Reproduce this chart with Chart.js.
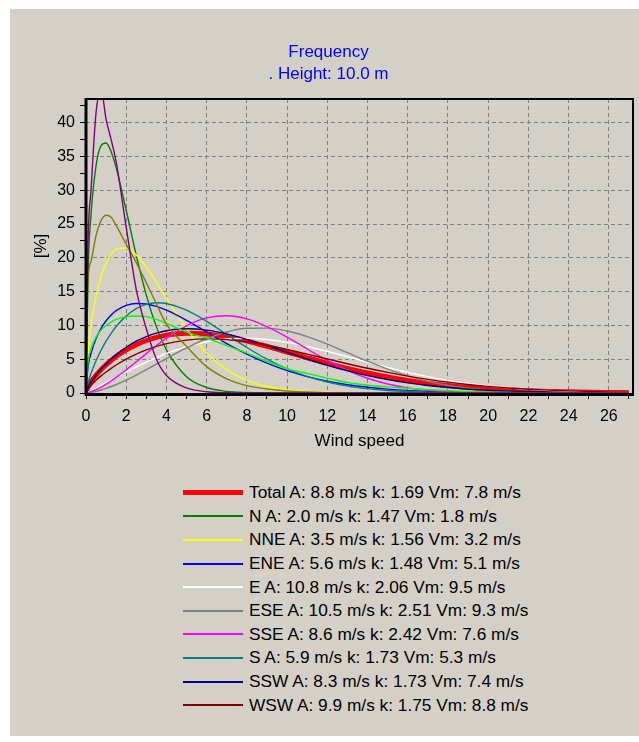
<!DOCTYPE html>
<html>
<head>
<meta charset="utf-8">
<title>Frequency</title>
<script src="https://cdn.jsdelivr.net/npm/chart.js@4.4.1/dist/chart.umd.min.js"></script>
<style>
  html, body { margin: 0; padding: 0; background: #ffffff; }
  #panel { position: absolute; left: 10px; top: 9px; width: 629px; height: 727px; background: #d4d0c8; overflow: hidden; }
  #chart { position: absolute; left: 0; top: 0; }
  #legend { position: absolute; left: 173px; top: 472px; font-family: "Liberation Sans", Arial, sans-serif; font-size: 17.3px; color: #000; }
  .row { display: flex; align-items: center; height: 23.6px; white-space: nowrap; }
  .swatch { width: 60px; margin-right: 6px; }
</style>
</head>
<body>
<div id="panel">
  <canvas id="chart" width="629" height="444"></canvas>
  <div id="legend"></div>
</div>
<script>
// Wind speed samples (m/s) shared by every curve
const speeds = [0, 0.1, 0.25, 0.5, 0.75, 1, 1.25, 1.5, 2, 2.5, 3, 3.5, 4,
  5, 6, 7, 8, 9, 10, 11, 12, 13, 14, 15, 16, 17, 18, 19, 20, 21, 22, 23, 24, 25, 26, 27];

// Sector names and Weibull parameters shown in the legend
const sectors   = ['Total', 'N', 'NNE', 'ENE', 'E', 'ESE', 'SSE', 'S', 'SSW', 'WSW', 'W', 'WNW', 'NNW'];
const weibullA  = [8.8, 2.0, 3.5, 5.6, 10.8, 10.5, 8.6, 5.9, 8.3, 9.9, null, null, null];
const weibullK  = [1.69, 1.47, 1.56, 1.48, 2.06, 2.51, 2.42, 1.73, 1.73, 1.75, null, null, null];
const meanSpeed = [7.8, 1.8, 3.2, 5.1, 9.5, 9.3, 7.6, 5.3, 7.4, 8.8, null, null, null];

// Frequency [%] per sector at each wind speed
const total = [0, 0.87, 1.64, 2.63, 3.46, 4.18, 4.81, 5.39, 6.37, 7.15, 7.77, 8.24, 8.56,
  8.85, 8.74, 8.31, 7.68, 6.90, 6.06, 5.21, 4.39, 3.64, 2.96, 2.36, 1.86, 1.44, 1.10, 0.83, 0.62, 0.45, 0.33, 0.23, 0.17, 0.12, 0.08, 0.05];
const sectorN = [0, 17.77, 26.39, 33.63, 36.59, 36.99, 35.71, 33.35, 27.04, 20.37, 14.49, 9.82, 6.38,
  2.42, 0.81, 0.24, 0.07, 0.02, 0, 0, 0, 0, 0, 0, 0, 0, 0, 0, 0, 0, 0, 0, 0, 0, 0, 0];
const sectorNNE = [0, 6.06, 10.00, 14.29, 17.19, 19.18, 20.49, 21.24, 21.45, 20.43, 18.63, 16.40, 14.01,
  9.51, 5.93, 3.45, 1.88, 0.96, 0.47, 0.22, 0.10, 0.04, 0.02, 0, 0, 0, 0, 0, 0, 0, 0, 0, 0, 0, 0, 0];
const sectorENE = [0, 3.82, 5.88, 8.06, 9.57, 10.69, 11.54, 12.18, 12.97, 13.25, 13.17, 12.81, 12.25,
  10.75, 9.03, 7.32, 5.76, 4.41, 3.30, 2.42, 1.74, 1.22, 0.85, 0.58, 0.39, 0.26, 0.17, 0.11, 0.07, 0.04, 0.03, 0.02, 0.01, 0, 0, 0];
const sectorE = [0, 0.13, 0.35, 0.73, 1.12, 1.52, 1.92, 2.31, 3.10, 3.85, 4.57, 5.24, 5.85,
  6.87, 7.59, 8.00, 8.09, 7.91, 7.49, 6.89, 6.16, 5.37, 4.56, 3.78, 3.06, 2.42, 1.87, 1.41, 1.04, 0.76, 0.53, 0.37, 0.25, 0.17, 0.11, 0.07];
const sectorESE = [0, 0.02, 0.09, 0.24, 0.44, 0.68, 0.96, 1.26, 1.92, 2.66, 3.45, 4.27, 5.10,
  6.68, 8.03, 9.03, 9.57, 9.60, 9.17, 8.34, 7.22, 5.97, 4.71, 3.54, 2.54, 1.73, 1.13, 0.70, 0.41, 0.23, 0.12, 0.06, 0.03, 0.01, 0, 0];
const sectorSSE = [0, 0.05, 0.19, 0.50, 0.88, 1.32, 1.80, 2.32, 3.44, 4.63, 5.83, 7.01, 8.11,
  9.95, 11.11, 11.44, 10.97, 9.83, 8.26, 6.51, 4.81, 3.34, 2.18, 1.33, 0.76, 0.41, 0.20, 0.10, 0.04, 0.02, 0.01, 0, 0, 0, 0, 0];
const sectorS = [0, 1.49, 2.91, 4.77, 6.33, 7.66, 8.82, 9.83, 11.41, 12.49, 13.12, 13.36, 13.25,
  12.26, 10.60, 8.66, 6.73, 5.00, 3.57, 2.45, 1.62, 1.03, 0.64, 0.38, 0.22, 0.12, 0.07, 0.04, 0.02, 0.01, 0, 0, 0, 0, 0, 0];
const sectorSSW = [0, 0.83, 1.61, 2.66, 3.55, 4.33, 5.04, 5.68, 6.77, 7.66, 8.35, 8.87, 9.22,
  9.50, 9.30, 8.74, 7.94, 7.00, 6.01, 5.03, 4.11, 3.29, 2.58, 1.99, 1.50, 1.11, 0.81, 0.58, 0.41, 0.28, 0.19, 0.13, 0.08, 0.05, 0.03, 0.02];
const sectorWSW = [0, 0.56, 1.12, 1.87, 2.53, 3.11, 3.65, 4.14, 5.01, 5.76, 6.38, 6.89, 7.30,
  7.83, 8.01, 7.90, 7.57, 7.06, 6.44, 5.75, 5.03, 4.33, 3.66, 3.05, 2.50, 2.02, 1.61, 1.26, 0.98, 0.75, 0.56, 0.42, 0.31, 0.23, 0.16, 0.12];
const sectorW = [0, 4.5, 6.5, 8.3, 9.3, 10.0, 10.5, 10.9, 11.3, 11.4, 11.3, 10.9, 10.3,
  9.0, 8.1, 7.0, 5.9, 4.7, 3.6, 2.9, 2.2, 1.55, 1.15, 0.9, 0.7, 0.5, 0.35, 0.22, 0.12, 0.07, 0.04, 0.02, 0, 0, 0, 0];
const sectorWNW = [0, 16.5, 19.5, 23.3, 25.5, 26.3, 26.0, 24.8, 22.0, 19.3, 16.3, 13.2, 10.2,
  6.9, 3.9, 2.1, 1.1, 0.6, 0.3, 0.15, 0.05, 0, 0, 0, 0, 0, 0, 0, 0, 0, 0, 0, 0, 0, 0, 0];
const sectorNNW = [0, 22, 30, 41.5, 44.8, 40.5, 37.5, 34.2, 24.5, 15.3, 9.5, 5.0, 2.6,
  0.75, 0.18, 0.04, 0, 0, 0, 0, 0, 0, 0, 0, 0, 0, 0, 0, 0, 0, 0, 0, 0, 0, 0, 0];

const seriesValues = [total, sectorN, sectorNNE, sectorENE, sectorE, sectorESE, sectorSSE,
  sectorS, sectorSSW, sectorWSW, sectorW, sectorWNW, sectorNNW];
const seriesColors = ['#ff0000', '#008000', '#ffff00', '#0000ff', '#ffffff', '#808080', '#ff00ff',
  '#008080', '#000080', '#800000', '#00ff00', '#808000', '#800080'];

const xTicksMajor = 2;   // labelled x ticks every 2 m/s
const yTicksMajor = 5;   // labelled y ticks every 5 %
const legendRows = 10;   // rows that fit in the legend box

const FONT = '"Liberation Sans", Arial, sans-serif';

function sectorLabel(i) {
  if (weibullA[i] === null) return sectors[i];
  return sectors[i] + ' A: ' + weibullA[i].toFixed(1) + ' m/s k: ' + weibullK[i].toFixed(2) +
    ' Vm: ' + meanSpeed[i].toFixed(1) + ' m/s';
}

const datasets = seriesValues.map((vals, i) => ({
  label: sectorLabel(i),
  data: speeds.map((x, j) => ({ x: x, y: vals[j] })),
  borderColor: seriesColors[i],
  backgroundColor: seriesColors[i],
  borderWidth: i === 0 ? 5 : 1.4,
  pointRadius: 0,
  fill: false,
  cubicInterpolationMode: 'monotone',
  order: -i   // later sectors are painted over earlier ones
}));

// Closes the plot frame along the top and right sides
const plotFrame = {
  id: 'plotFrame',
  afterDatasetsDraw(chart) {
    const { ctx, chartArea: a } = chart;
    ctx.save();
    ctx.strokeStyle = '#000';
    ctx.lineWidth = 2;
    ctx.beginPath();
    ctx.moveTo(a.left, a.top);
    ctx.lineTo(a.right, a.top);
    ctx.lineTo(a.right, a.bottom);
    ctx.stroke();
    ctx.lineWidth = 3;
    ctx.beginPath();
    ctx.moveTo(a.left, a.top - 1);
    ctx.lineTo(a.left, a.bottom + 1.5);
    ctx.lineTo(a.right + 1, a.bottom + 1.5);
    ctx.stroke();
    ctx.restore();
  }
};

const gridColor = '#808080';

const chart = new Chart(document.getElementById('chart'), {
  type: 'line',
  data: { datasets: datasets },
  plugins: [plotFrame],
  options: {
    responsive: false,
    animation: false,
    events: [],
    layout: { padding: { left: 14, right: 6, top: 0, bottom: 0 } },
    plugins: {
      legend: { display: false },
      tooltip: { enabled: false },
      title: {
        display: true,
        text: ['Frequency', '. Height: 10.0 m'],
        color: '#0000ff',
        font: { family: FONT, size: 17, weight: 'normal', lineHeight: 22 / 17 },
        padding: { top: 32, bottom: 14 }
      }
    },
    scales: {
      x: {
        type: 'linear',
        min: 0,
        max: 27.2,
        afterFit(scale) { scale.height = 60; },
        ticks: {
          stepSize: 1,
          includeBounds: false,
          autoSkip: false,
          maxRotation: 0,
          padding: 8,
          color: '#000',
          font: { family: FONT, size: 16 },
          callback: v => (v % xTicksMajor === 0 ? String(v) : '')
        },
        grid: {
          color: c => (c.tick && c.tick.value % xTicksMajor === 0 && c.tick.value !== 0 ? gridColor : 'rgba(0,0,0,0)'),
          lineWidth: 1,
          drawTicks: true,
          tickLength: 6,
          tickColor: '#000',
          tickWidth: 1
        },
        border: { display: false, dash: [4, 3] },
        title: {
          display: true,
          text: 'Wind speed',
          color: '#000',
          font: { family: FONT, size: 17 },
          padding: { top: 0, bottom: 1 }
        }
      },
      y: {
        type: 'linear',
        min: 0,
        max: 43.5,
        afterFit(scale) { scale.width = 62; },
        ticks: {
          stepSize: 2.5,
          includeBounds: false,
          autoSkip: false,
          padding: 5,
          color: '#000',
          font: { family: FONT, size: 16 },
          callback: v => (v % yTicksMajor === 0 ? String(v) : '')
        },
        grid: {
          color: c => (c.tick && c.tick.value % yTicksMajor === 0 && c.tick.value !== 0 ? gridColor : 'rgba(0,0,0,0)'),
          lineWidth: 1,
          drawTicks: true,
          tickLength: 6,
          tickColor: '#000',
          tickWidth: 1
        },
        border: { display: false, dash: [4, 3] },
        title: {
          display: true,
          text: '[%]',
          color: '#000',
          font: { family: FONT, size: 17 },
          padding: { top: 7, bottom: 0 }
        }
      }
    }
  }
});

// Legend list built from the chart's own datasets
const legendEl = document.getElementById('legend');
chart.data.datasets.slice(0, legendRows).forEach(ds => {
  const row = document.createElement('div');
  row.className = 'row';
  const sw = document.createElement('span');
  sw.className = 'swatch';
  sw.style.height = (ds.borderWidth >= 4 ? 5 : 2) + 'px';
  sw.style.background = ds.borderColor;
  const txt = document.createElement('span');
  txt.textContent = ds.label;
  row.appendChild(sw);
  row.appendChild(txt);
  legendEl.appendChild(row);
});
</script>
</body>
</html>
